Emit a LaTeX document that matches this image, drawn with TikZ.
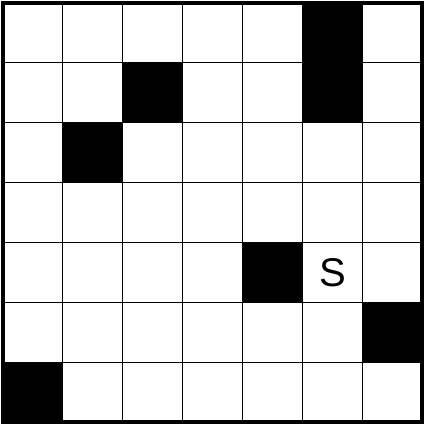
\documentclass[tikz,border=0pt]{standalone}
\usepackage{fontspec}
\setmainfont{Liberation Sans}
\usetikzlibrary{positioning}

\begin{document}
\begin{tikzpicture}[
  x=1cm, y=1cm,
  cell/.style={draw=black, line width=0.5pt, minimum size=1cm, inner sep=0pt, outer sep=0pt, anchor=south west},
  wall/.style={cell, fill=black},
  startlabel/.style={font=\fontsize{19}{19}\selectfont}
]
\useasboundingbox (-0.042,-0.042) rectangle (7.042,7.042);
% open cells
\foreach \r in {0,...,6}{
  \foreach \c in {0,...,6}{
    \node[cell] (c-\r-\c) at (\c,6-\r) {};
  }
}
% blocked cells
\foreach \r/\c in {0/5,1/5,1/2,2/1,4/4,5/6,6/0}{
  \node[wall] (w-\r-\c) at (\c,6-\r) {};
}
% start
\node[startlabel] (start) at (c-4-5.center) {S};
% outer frame
\draw[line width=1.9pt] (c-6-0.south west) rectangle (c-0-6.north east);
\end{tikzpicture}
\end{document}
